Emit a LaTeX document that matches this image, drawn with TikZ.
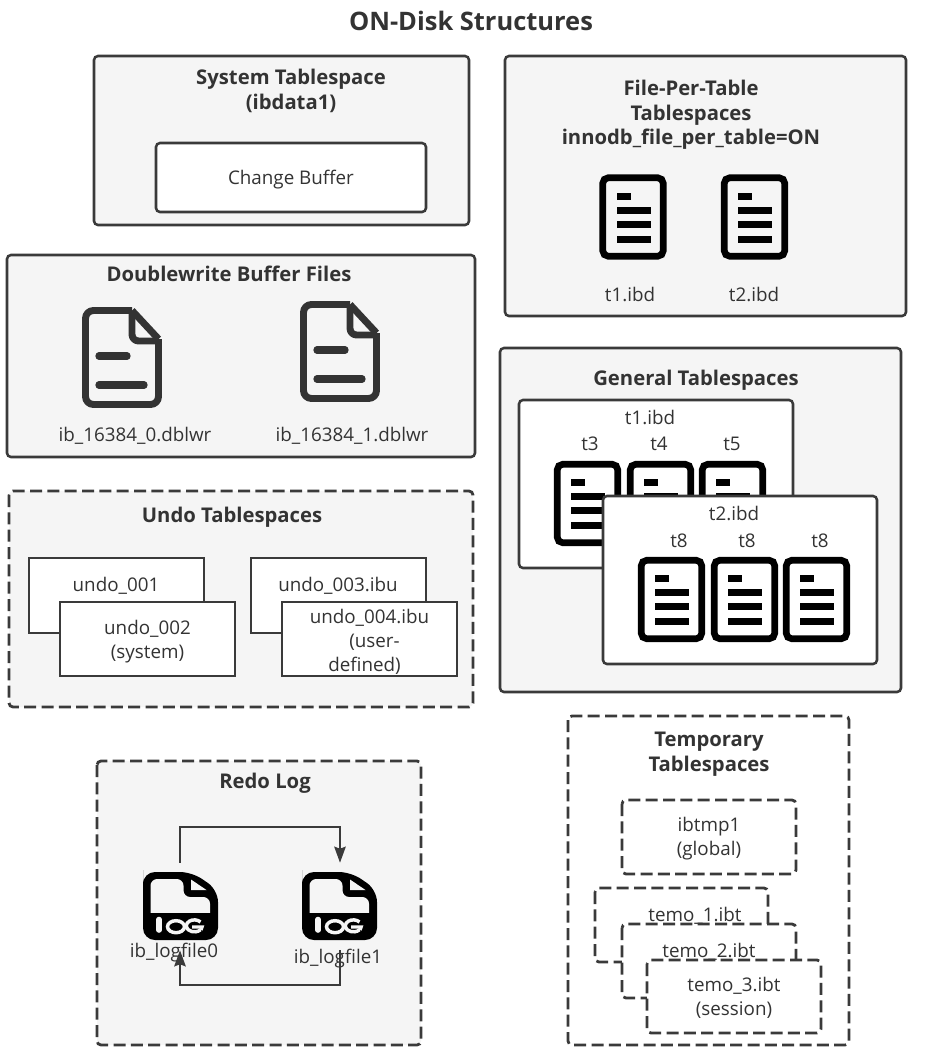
\documentclass[tikz,border=0pt]{standalone}
\usepackage{fontspec}
\setmainfont{Open Sans}
\usetikzlibrary{arrows.meta}
\definecolor{ink}{HTML}{333333}
\definecolor{frame}{HTML}{3A3A3A}
\definecolor{panel}{HTML}{F5F5F5}
\tikzset{
  panelbox/.style={draw=frame,fill=panel,line width=1.9pt,rounded corners=3pt},
  whitebox/.style={draw=frame,fill=white,line width=1.9pt,rounded corners=3pt},
  squarebox/.style={draw=frame,fill=white,line width=1.9pt},
  dashpanel/.style={panelbox,line width=2.1pt,dash pattern=on 9pt off 4pt},
  dashwhite/.style={whitebox,line width=2.1pt,dash pattern=on 9pt off 4pt},
  titletext/.style={text=ink,yshift=-1.5pt,font=\fontsize{15.2pt}{18.5pt}\selectfont\bfseries,align=center},
  labeltext/.style={text=ink,yshift=-1.5pt,font=\fontsize{14.1pt}{18pt}\selectfont,align=center},
  flow/.style={draw=frame,line width=1.9pt,-{Stealth[length=12pt,width=8.5pt,inset=1.5pt]}},
  sheeticon/.pic={
    \draw[black,line width=5pt,rounded corners=4pt] (3.3,3.3) rectangle (63.7,81.7);
    \fill[black] (17,18) rectangle (31,25);
    \fill[black] (17,32) rectangle (51,39);
    \fill[black] (17,46) rectangle (51,53);
    \fill[black] (17,61) rectangle (51,68);
  },
  foldicon/.pic={
    \draw[ink,line width=5.2pt,line join=round,rounded corners=6pt] (50,3.5) -- (3.5,3.5) -- (3.5,97.5) -- (76.5,97.5) -- (76.5,32);
    \draw[ink,line width=5.2pt,line join=round] (50,3.5) -- (76.5,32);
    \draw[ink,line width=5.2pt,line join=round,rounded corners=5pt] (50,3.5) -- (50,34) -- (76.5,34);
    \draw[ink,line width=5.5pt,line cap=round] (17,49) -- (45,49);
    \draw[ink,line width=5.5pt,line cap=round] (17,78) -- (62,78);
  },
  logicon/.pic={
    \fill[black,rounded corners=9pt] (0,10) -- (0,0) -- (49,0) -- (75,18) -- (75,68) -- (0,68) -- cycle;
    \fill[panel,rounded corners=5pt] (7.5,50) -- (7.5,7) -- (40.5,7) -- (40.5,25) -- (67,25) -- (67,50) -- cycle;
    \fill[black] (0,41) rectangle (75,56);
    \fill[panel] (48,7.5) -- (63.5,18) -- (48,18) -- cycle;
    \draw[panel,line width=4.2pt,line cap=round] (16,47.5) -- (16,58);
    \draw[panel,line width=2.6pt] (33,54.7) ellipse[x radius=8.5,y radius=6];
    \draw[panel,line width=2.6pt] (57.5,50) arc[start angle=-40,end angle=-320,x radius=8,y radius=6] ;
    \draw[panel,line width=2.6pt] (49,55) -- (59,55) -- (58,58);
  }
}
\begin{document}
\begin{tikzpicture}[x=0.75pt,y=-0.75pt]
\useasboundingbox[fill=white] (0,0) rectangle (926,1058);

\node[titletext,font=\fontsize{19.1pt}{22pt}\selectfont\bfseries] (heading) at (471,19) {ON-Disk Structures};

% System tablespace
\draw[panelbox] (94,56) rectangle (469,225);
\node[titletext] (systitle) at (291,89) {System Tablespace\\(ibdata1)};
\node[whitebox,minimum width=202.5pt,minimum height=51.75pt] (changebuf) at (291,177.5) {};
\node[labeltext] (changebuftext) at (291,178) {Change Buffer};

% File-per-table tablespaces
\draw[panelbox] (505,56) rectangle (906,316);
\node[titletext] (fpttitle) at (691,113) {File-Per-Table\\Tablespaces\\innodb\_file\_per\_table=ON};
\pic (fptone) at (599.5,174.5) {sheeticon};
\pic (fpttwo) at (721,174.5) {sheeticon};
\node[labeltext] (fptonelabel) at (630,292) {t1.ibd};
\node[labeltext] (fpttwolabel) at (754,292) {t2.ibd};

% Doublewrite buffer files
\draw[panelbox] (7,255) rectangle (475,457);
\node[titletext] (dwtitle) at (229,272) {Doublewrite Buffer Files};
\pic (dwzero) at (82,307) {foldicon};
\pic (dwone) at (300,301) {foldicon};
\node[labeltext] (dwzerolabel) at (135,434) {ib\_16384\_0.dblwr};
\node[labeltext] (dwonelabel) at (352,434) {ib\_16384\_1.dblwr};

% General tablespaces
\draw[panelbox] (500,348) rectangle (901,692);
\node[titletext] (gentitle) at (696,378) {General Tablespaces};
\draw[whitebox] (519,400) rectangle (793,568);
\node[labeltext] (genone) at (650,415) {t1.ibd};
\node[labeltext] (tthree) at (590,442) {t3};
\node[labeltext] (tfour) at (659,442) {t4};
\node[labeltext] (tfive) at (732,442) {t5};
\pic (sheetthree) at (554,461) {sheeticon};
\pic (sheetfour) at (627,461) {sheeticon};
\pic (sheetfive) at (699,461) {sheeticon};
\draw[whitebox] (603,496) rectangle (877,664);
\node[labeltext] (gentwo) at (734,511) {t2.ibd};
\node[labeltext] (teighta) at (679,539) {t8};
\node[labeltext] (teightb) at (747,539) {t8};
\node[labeltext] (teightc) at (820,539) {t8};
\pic (sheeta) at (638,557) {sheeticon};
\pic (sheetb) at (711,557) {sheeticon};
\pic (sheetc) at (783,557) {sheeticon};

% Undo tablespaces
\draw[dashpanel] (9,491) rectangle (473,707);
\node[titletext] (undotitle) at (232,515) {Undo Tablespaces};
\draw[squarebox] (29,558) rectangle (204,633);
\node[labeltext] (undoone) at (116,584) {undo\_001};
\draw[squarebox] (60,602) rectangle (235,676);
\node[labeltext] (undotwo) at (147.5,640) {undo\_002\\(system)};
\draw[squarebox] (251,558) rectangle (426,633);
\node[labeltext] (undothree) at (338,584) {undo\_003.ibu};
\draw[squarebox] (282,602) rectangle (457,676);
\node[labeltext] (undofour) at (369.5,640) {undo\_004.ibu\\\hspace*{7.5pt}(user-\\defined)\hspace*{7.5pt}};

% Redo log
\draw[dashpanel] (97,761) rectangle (421,1045);
\node[titletext] (redotitle) at (265,781) {Redo Log};
\pic (logzeroicon) at (143,872) {logicon};
\pic (logoneicon) at (302,872) {logicon};
\node[labeltext] (logzerolabel) at (174,951) {ib\_logfile0};
\node[labeltext] (logonelabel) at (338,957) {ib\_logfile1};
\node[minimum width=60pt,minimum height=65.25pt,inner sep=0pt] (logzero) at (180,906.5) {};
\node[minimum width=60pt,minimum height=65.25pt,inner sep=0pt] (logone) at (340,906.5) {};
\coordinate (topbend) at (260,827);
\coordinate (lowbend) at (260,985);
\draw[flow] (logzero.north) |- (topbend) -| (logone.north);
\draw[flow] (logone.south) |- (lowbend) -| (logzero.south);

% Temporary tablespaces
\draw[dashwhite] (568,716) rectangle (849,1045);
\node[titletext] (temptitle) at (709,752) {Temporary\\Tablespaces};
\draw[dashwhite] (622,800) rectangle (796,874);
\node[labeltext] (ibtmp) at (709,837) {ibtmp1\\(global)};
\draw[dashwhite] (595,888) rectangle (768,962);
\node[labeltext] (temoone) at (695,914) {temo\_1.ibt};
\draw[dashwhite] (622,924) rectangle (796,998);
\node[labeltext] (temotwo) at (709,950) {temo\_2.ibt};
\draw[dashwhite] (647,960) rectangle (821,1033);
\node[labeltext] (temothree) at (734,996) {temo\_3.ibt\\(session)};
\end{tikzpicture}
\end{document}
